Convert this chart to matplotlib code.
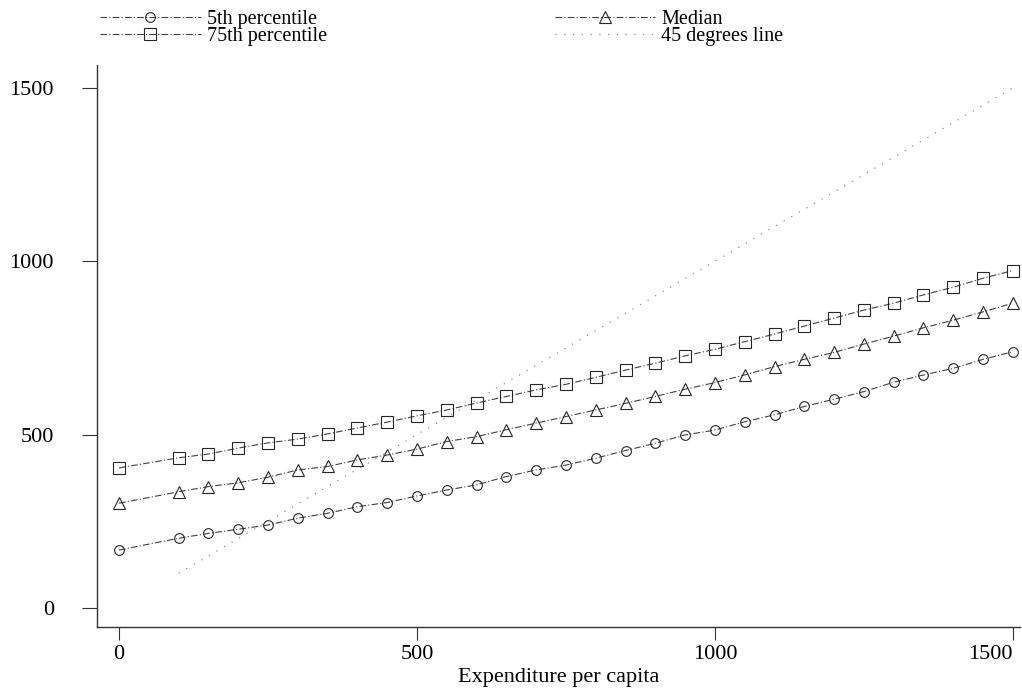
import matplotlib
matplotlib.use("Agg")
import matplotlib.pyplot as plt

plt.rcParams['font.family'] = ['Liberation Serif', 'DejaVu Serif']

# expenditure per capita grid
expenditure = [0, 100, 150, 200, 250, 300, 350, 400, 450, 500, 550, 600, 650, 700,
               750, 800, 850, 900, 950, 1000, 1050, 1100, 1150, 1200, 1250, 1300,
               1350, 1400, 1450, 1500]

p5 = [167, 201, 215, 227, 239, 259, 273, 292, 304, 323, 340, 355, 379, 398,
      412, 432, 454, 475, 499, 513, 537, 557, 581, 602, 624, 651, 672, 691, 717, 739]

median = [302, 335, 350, 361, 377, 398, 408, 427, 441, 458, 480, 494, 514, 533,
          552, 571, 590, 610, 631, 650, 672, 696, 717, 737, 761, 784, 808, 830, 854, 879]

p75 = [404, 433, 444, 461, 476, 487, 502, 519, 536, 554, 571, 591, 610, 629,
       645, 665, 686, 706, 727, 746, 768, 790, 813, 836, 859, 879, 903, 925, 951, 973]

diag_x = [100, 1500]
diag_y = [100, 1500]

ticks = [0, 500, 1000, 1500]

fig = plt.figure(figsize=(10.22, 6.94), dpi=100)
ax = fig.add_axes([97/1022, 67/694, 923/1022, 562/694])

line_style = dict(color='0.25', linewidth=0.8, linestyle=(0, (6, 2, 1, 2)),
                  markerfacecolor='none', markeredgecolor='0.15', markeredgewidth=0.8)

h5, = ax.plot(expenditure, p5, marker='o', markersize=7, label='5th percentile', **line_style)
hm, = ax.plot(expenditure, median, marker='^', markersize=8, label='Median', **line_style)
h75, = ax.plot(expenditure, p75, marker='s', markersize=8, label='75th percentile', **line_style)
hd, = ax.plot(diag_x, diag_y, color='0.55', linewidth=0.9, linestyle=(0, (1, 6)),
              label='45 degrees line')

ax.set_xlim(-37, 1512)
ax.set_ylim(-55, 1566)
ax.set_xticks(ticks)
ax.set_yticks(ticks)
ax.tick_params(axis='both', labelsize=16, width=0.8, color='0.2')
ax.tick_params(axis='x', length=9, pad=4)
ax.tick_params(axis='y', length=11, pad=20)
# last x label sits left of its tick, as in the original
ax.get_xticklabels()[-1].set_horizontalalignment('right')
ax.spines['top'].set_visible(False)
ax.spines['right'].set_visible(False)
for s in ['left', 'bottom']:
    ax.spines[s].set_color('0.2')
    ax.spines[s].set_linewidth(1.0)

ax.set_xlabel('Expenditure per capita', fontsize=16, labelpad=3)

fig.legend([h5, h75, hm, hd],
           ['5th percentile', '75th percentile', 'Median', '45 degrees line'],
           ncol=2, frameon=False, fontsize=14.5, loc='upper left',
           bbox_to_anchor=(90/1022, 1.0), handlelength=5, handletextpad=0.3,
           labelspacing=-0.1, columnspacing=11.3, borderaxespad=0.1)

fig.savefig('out.png', dpi=100)
